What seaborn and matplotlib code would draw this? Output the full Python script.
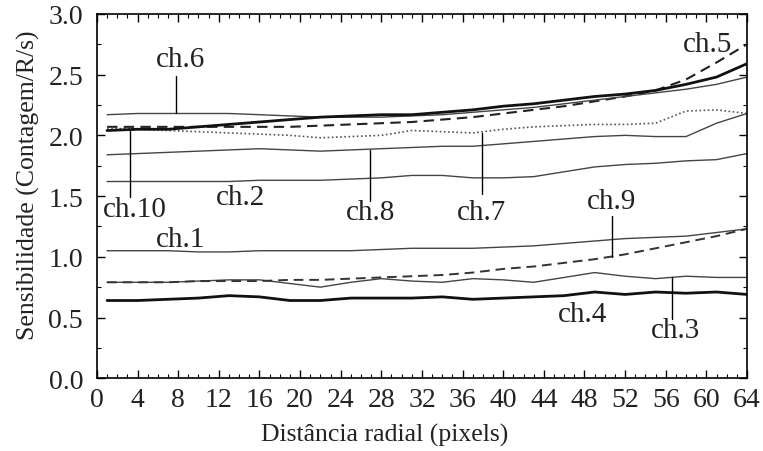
import numpy as np
import pandas as pd
import seaborn as sns
import matplotlib.pyplot as plt
from matplotlib.ticker import MultipleLocator

# radial distance (pixels)
dist = [1, 4, 7, 10, 13, 16, 19, 22, 25, 28, 31, 34, 37, 40, 43, 46, 49, 52, 55, 58, 61, 64]

ch1 = [1.05, 1.05, 1.05, 1.04, 1.04, 1.05, 1.05, 1.05, 1.05, 1.06, 1.07, 1.07, 1.07, 1.08, 1.09, 1.11, 1.13, 1.15, 1.16, 1.17, 1.20, 1.23]
ch2 = [1.62, 1.62, 1.62, 1.62, 1.62, 1.63, 1.63, 1.63, 1.64, 1.65, 1.67, 1.67, 1.65, 1.65, 1.66, 1.70, 1.74, 1.76, 1.77, 1.79, 1.80, 1.85]
ch3 = [0.79, 0.79, 0.79, 0.80, 0.81, 0.81, 0.78, 0.75, 0.79, 0.82, 0.80, 0.79, 0.82, 0.81, 0.79, 0.83, 0.87, 0.84, 0.82, 0.84, 0.83, 0.83]
ch4 = [0.64, 0.64, 0.65, 0.66, 0.68, 0.67, 0.64, 0.64, 0.66, 0.66, 0.66, 0.67, 0.65, 0.66, 0.67, 0.68, 0.71, 0.69, 0.71, 0.70, 0.71, 0.69]
ch5 = [2.07, 2.07, 2.07, 2.07, 2.07, 2.07, 2.07, 2.08, 2.09, 2.10, 2.11, 2.13, 2.15, 2.18, 2.21, 2.24, 2.28, 2.32, 2.37, 2.46, 2.60, 2.75]
ch6 = [2.17, 2.18, 2.18, 2.18, 2.18, 2.17, 2.16, 2.15, 2.15, 2.15, 2.16, 2.17, 2.19, 2.21, 2.23, 2.26, 2.29, 2.32, 2.35, 2.38, 2.42, 2.48]
ch7 = [2.06, 2.05, 2.04, 2.03, 2.02, 2.01, 2.00, 1.98, 1.99, 2.00, 2.04, 2.03, 2.02, 2.05, 2.07, 2.08, 2.09, 2.09, 2.10, 2.20, 2.21, 2.18]
ch8 = [1.84, 1.85, 1.86, 1.87, 1.88, 1.89, 1.88, 1.87, 1.88, 1.89, 1.90, 1.91, 1.91, 1.93, 1.95, 1.97, 1.99, 2.00, 1.99, 1.99, 2.10, 2.18]
ch9 = [0.79, 0.79, 0.79, 0.80, 0.80, 0.80, 0.81, 0.81, 0.82, 0.83, 0.84, 0.85, 0.87, 0.90, 0.92, 0.95, 0.98, 1.02, 1.07, 1.12, 1.17, 1.23]
ch10 = [2.04, 2.05, 2.05, 2.07, 2.09, 2.11, 2.13, 2.15, 2.16, 2.17, 2.17, 2.19, 2.21, 2.24, 2.26, 2.29, 2.32, 2.34, 2.37, 2.42, 2.48, 2.59]

# label text, text position, leader line (x, y_from, y_to) or None
labels = [
    ("ch.6", 8.2, 2.63, (7.8, 2.49, 2.18)),
    ("ch.10", 3.7, 1.39, (3.3, 1.49, 2.04)),
    ("ch.2", 14.1, 1.49, None),
    ("ch.8", 26.9, 1.37, (26.9, 1.46, 1.88)),
    ("ch.7", 37.9, 1.37, (37.9, 1.52, 2.02)),
    ("ch.5", 60.1, 2.75, None),
    ("ch.9", 50.7, 1.46, (50.7, 1.34, 1.00)),
    ("ch.1", 8.2, 1.15, None),
    ("ch.4", 47.8, 0.53, None),
    ("ch.3", 57.0, 0.40, (56.6, 0.49, 0.83)),
]

sns.set_style("ticks")
plt.rcParams['font.family'] = ['Liberation Serif', 'DejaVu Serif']

fig, ax = plt.subplots(figsize=(7.63, 4.52), dpi=100)
fig.subplots_adjust(left=0.127, right=0.979, top=0.967, bottom=0.161)

thin = dict(color="#444444", linewidth=1.0)
styles = {
    "ch.1": thin, "ch.2": thin, "ch.3": thin, "ch.6": thin, "ch.8": thin,
    "ch.4": dict(color="#111111", linewidth=2.0),
    "ch.10": dict(color="#111111", linewidth=2.0),
    "ch.5": dict(color="#222222", linewidth=1.5, linestyle=(0, (5, 3))),
    "ch.9": dict(color="#333333", linewidth=1.4, linestyle=(0, (5, 3))),
    "ch.7": dict(color="#555555", linewidth=1.2, linestyle=(0, (1, 1.5))),
}
series = {"ch.1": ch1, "ch.2": ch2, "ch.3": ch3, "ch.4": ch4, "ch.5": ch5,
          "ch.6": ch6, "ch.7": ch7, "ch.8": ch8, "ch.9": ch9, "ch.10": ch10}

for name, vals in series.items():
    df = pd.DataFrame({"x": dist, "y": vals})
    sns.lineplot(data=df, x="x", y="y", ax=ax, **styles[name])

for text, tx, ty, leader in labels:
    ax.text(tx, ty, text, ha="center", va="center", fontsize=21, color="#222222")
    if leader is not None:
        lx, y0, y1 = leader
        ax.plot([lx, lx], [y0, y1], color="black", linewidth=1.0)

ax.set_xlim(0, 64)
ax.set_ylim(0, 3.0)
ax.xaxis.set_major_locator(MultipleLocator(4))
ax.xaxis.set_minor_locator(MultipleLocator(1))
ax.yaxis.set_major_locator(MultipleLocator(0.5))
ax.yaxis.set_minor_locator(MultipleLocator(0.25))
ax.yaxis.set_major_formatter(plt.FormatStrFormatter("%.1f"))
ax.tick_params(which="both", direction="in", top=True, right=True, labelsize=20,
               color="black", labelcolor="#222222")
ax.tick_params(which="major", length=6, width=1)
ax.tick_params(which="minor", length=3, width=0.8)
ax.tick_params(axis="y", which="major", pad=10)
ax.tick_params(axis="x", which="major", pad=6)
for s in ax.spines.values():
    s.set_linewidth(1.2)
    s.set_color("black")

ax.set_xlabel("Distância radial (pixels)", fontsize=18.5, color="#222222", labelpad=8)
ax.set_ylabel("Sensibilidade (Contagem/R/s)", fontsize=18.5, color="#222222", labelpad=6)
ax.xaxis.label.set_x(0.443)
ax.yaxis.label.set_y(0.533)

fig.savefig("out.png", dpi=100)
